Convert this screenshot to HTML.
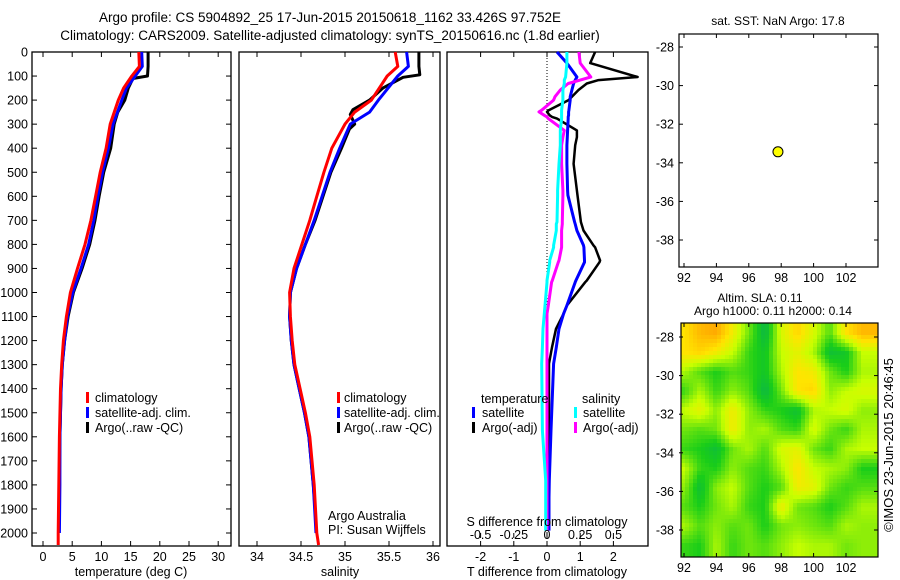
<!DOCTYPE html>
<html><head><meta charset="utf-8"><style>
body{margin:0;background:#fff;}
svg{display:block;font-family:"Liberation Sans",sans-serif;}
</style></head><body>
<svg id="fig" width="900" height="580" viewBox="0 0 900 580" xmlns="http://www.w3.org/2000/svg">
<rect width="900" height="580" fill="#fff"/>
<text x="330" y="22" font-size="13.5" text-anchor="middle">Argo profile: CS 5904892_25 17-Jun-2015 20150618_1162 33.426S 97.752E</text>
<text x="330" y="40" font-size="13.5" text-anchor="middle">Climatology: CARS2009. Satellite-adjusted climatology: synTS_20150616.nc (1.8d earlier)</text>
<g id="g"></g>
</svg>
<script>
// ---- data ----
const depthTicks=[0,100,200,300,400,500,600,700,800,900,1000,1100,1200,1300,1400,1500,1600,1700,1800,1900,2000];
const tempTicks=[0,5,10,15,20,25,30];
const salTicks=[34,34.5,35,35.5,36];
const tdiffTicks=[-2,-1,0,1,2];
const sdiffTicks=[-0.5,-0.25,0,0.25,0.5];
const sdiffTickLabels=["-0.5","-0.25","0","0.25","0.5"];
const lonTicks=[92,94,96,98,100,102];
const latTicks=[-28,-30,-32,-34,-36,-38];

const tClimDepth=[0,60,100,150,200,300,400,500,600,700,800,900,1000,1100,1200,1300,1400,1600,1800,2000,2050];
const tClim=[16.4,16.5,15.2,13.8,12.9,11.5,10.8,9.8,9.0,8.2,7.2,5.9,4.7,4.0,3.5,3.2,3.0,2.8,2.7,2.6,2.6];
const tSatDepth=[0,60,100,150,200,300,400,500,600,700,800,900,1000,1100,1200,1300,1400,1600,1800,2000];
const tSat=[16.9,17.0,15.8,14.3,13.5,12.0,11.2,10.2,9.4,8.7,7.8,6.5,5.1,4.2,3.7,3.3,3.1,2.9,2.9,2.8];
const tArgoDepth=[0,60,100,110,150,200,250,300,400,500,600,700,800,900,1000,1100,1200,1300,1400,1600,1800,1900];
const tArgo=[18.0,18.0,17.9,15.4,14.6,14.0,12.8,12.2,11.6,10.4,9.6,8.9,8.0,6.7,5.2,4.3,3.7,3.3,3.1,2.9,2.8,2.8];

const sClimDepth=[0,60,100,200,250,300,400,500,600,700,800,900,1000,1100,1200,1300,1400,1500,1600,1800,2000,2050];
const sClim=[35.57,35.60,35.48,35.30,35.11,35.00,34.85,34.76,34.68,34.60,34.51,34.42,34.37,34.38,34.40,34.43,34.49,34.55,34.60,34.65,34.68,34.70];
const sSatDepth=[0,60,100,200,250,300,400,500,600,700,800,900,1000,1100,1200,1300,1400,1500,1600,1800,2000];
const sSat=[35.70,35.72,35.60,35.38,35.28,35.06,34.94,34.83,34.74,34.65,34.55,34.45,34.38,34.37,34.39,34.42,34.48,34.54,34.59,34.64,34.67];
const sArgoDepth=[0,60,95,105,150,200,240,260,300,320,400,500,600,700,800,900,1000,1100,1200,1300,1400,1500,1600,1800,1900];
const sArgo=[35.84,35.84,35.85,35.66,35.43,35.28,35.09,35.06,35.11,35.05,34.96,34.84,34.75,34.66,34.55,34.45,34.38,34.37,34.39,34.42,34.48,34.54,34.59,34.64,34.66];

const dDepth=[0,46,104,117,131,158,186,200,242,249,263,270,277,326,354,388,465,576,596,707,715,742,804,812,867,874,950,957,1054,1088,1151,1228,1296,1574,1782,1852,1990];
const dTsat=[0.3,0.6,0.9,0.85,0.8,0.75,0.7,0.7,0.66,0.65,0.65,0.64,0.64,0.62,0.61,0.6,0.6,0.62,0.63,0.83,0.85,0.9,1.1,1.11,1.13,1.13,0.87,0.85,0.6,0.5,0.36,0.28,0.2,0.12,0.07,0.06,0.06];
const dTargo=[1.45,1.3,2.73,1.55,1.2,0.95,0.75,0.65,0.05,0.0,0.08,0.15,0.3,0.9,0.9,0.85,0.8,0.9,0.92,1.02,1.04,1.1,1.4,1.45,1.6,1.58,1.2,1.15,0.6,0.5,0.27,0.15,0.06,0.06,0.05,0.04,0.0];
const dSsat=[0.15,0.15,0.14,0.13,0.13,0.12,0.12,0.12,0.11,0.11,0.11,0.11,0.11,0.1,0.1,0.1,0.09,0.08,0.08,0.075,0.07,0.07,0.05,0.05,0.02,0.02,0.0,0.0,-0.015,-0.02,-0.03,-0.035,-0.04,-0.035,-0.01,-0.01,-0.01];
const dSargo=[0.24,0.25,0.33,0.25,0.16,0.1,0.06,0.05,-0.04,-0.06,-0.02,0.0,0.01,0.13,0.12,0.11,0.11,0.12,0.12,0.115,0.115,0.11,0.11,0.11,0.09,0.085,0.04,0.035,0.01,0.0,0.0,0.0,0.0,0.0,0.0,0.0,0.0];

const floatLon=[97.8];
const floatLat=[-33.43];

const slaLat=[-27.8,-28.8,-29.8,-30.8,-31.8,-32.8,-33.8,-34.8,-35.8,-36.8,-37.8,-38.8];
const slaLon=[92,93,94,95,96,97,98,99,100,101,102,103];
const slaGrid=[
[.8,.95,1,.75,.45,.15,.65,.85,.65,.4,.8,.95],
[.8,.85,.75,.6,.35,.25,.6,.7,.55,.2,.25,.6],
[.55,.4,.3,.4,.35,.25,.55,.8,.75,.45,.3,.55],
[.35,.55,.35,.5,.4,.15,.45,.8,.85,.5,.6,.65],
[.6,.7,.5,.75,.5,.35,.3,.2,.55,.6,.65,.5],
[.45,.4,.45,.75,.5,.55,.4,.35,.65,.45,.35,.55],
[.35,.3,.2,.45,.55,.4,.65,.7,.45,.35,.55,.6],
[.6,.35,.3,.5,.4,.35,.55,.8,.6,.55,.5,.3],
[.5,.2,.5,.6,.4,.3,.4,.75,.7,.45,.35,.4],
[.4,.3,.45,.55,.35,.3,.75,.45,.4,.3,.4,.55],
[.55,.4,.5,.4,.45,.3,.45,.5,.45,.4,.55,.5],
[.35,.3,.55,.35,.45,.4,.5,.6,.55,.55,.45,.5]];

// ---- helpers ----
const NS="http://www.w3.org/2000/svg";
const G=document.getElementById('g');
function mk(tag,attrs,parent){const e=document.createElementNS(NS,tag);for(const k in attrs)e.setAttribute(k,attrs[k]);(parent||G).appendChild(e);return e;}
const yD=d=>52+d*0.2405;
const P1={x0:32,x1:231},P2={x0:239,x1:440},P3={x0:447,x1:648};
const Y0=52,Y1=546;
const xT=v=>43+v*5.84;
const xS=v=>257+(v-34)*88;
const xTd=v=>547+v*33.2;
const xSd=v=>547+v*132.8;
const mapX=lon=>684+(lon-92)*16.2;
const mapY1=lat=>47+(-28-lat)*19.3;
const mapY2=lat=>337+(-28-lat)*19.3;

function frame(P,name){
  const r=mk('rect',{x:P.x0,y:Y0,width:P.x1-P.x0,height:Y1-Y0,fill:'none',stroke:'#000','stroke-width':1.3});
  
  
}
function xticks(P,ticks,fx,labels,ly,name){
  ticks.forEach((t,i)=>{
    const x=fx(t);
    mk('line',{x1:x,y1:Y1,x2:x,y2:Y1-5,stroke:'#000'});
    mk('line',{x1:x,y1:Y0,x2:x,y2:Y0+5,stroke:'#000'});
    const tx=mk('text',{x:x,y:ly,'font-size':12.5,'text-anchor':'middle'});
    tx.textContent=labels?labels[i]:String(t);
    
    
  });
}
function line(xs,ds,fx,color,w,name){
  const pts=xs.map((v,i)=>fx(v).toFixed(1)+','+yD(ds[i]).toFixed(1)).join(' ');
  const p=mk('polyline',{points:pts,fill:'none',stroke:color,'stroke-width':w,'stroke-linejoin':'round'});
  
  
}
function label(x,y,txt,name,anchor,size){
  const t=mk('text',{x:x,y:y,'font-size':size||12.5,'text-anchor':anchor||'start'});
  t.textContent=txt;
  
  
  return t;
}
function legendMark(x,y,color,name){
  const r=mk('rect',{x:x,y:y-10,width:3,height:11,fill:color});
  
  
}

// ---- panel 1: temperature ----
frame(P1,'temperature-panel');
depthTicks.forEach(d=>{
  const y=yD(d);
  mk('line',{x1:P1.x0,y1:y,x2:P1.x0+5,y2:y,stroke:'#000'});
  mk('line',{x1:P1.x1,y1:y,x2:P1.x1-5,y2:y,stroke:'#000'});
  label(28,y+4.5,String(d),'depth-tick-label','end');
});
xticks(P1,tempTicks,xT,null,561,'temperature-tick-label');
label(131,576,'temperature (deg C)','temperature-axis-title','middle');
line(tArgo,tArgoDepth,xT,'#000',3,'temperature-argo-line');
line(tSat,tSatDepth,xT,'#0000ff',3,'temperature-satellite-line');
line(tClim,tClimDepth,xT,'#ff0000',3,'temperature-climatology-line');
legendMark(86,402,'#ff0000','legend-climatology-marker');label(95,402,'climatology','legend-climatology');
legendMark(86,417,'#0000ff','legend-satellite-marker');label(95,417,'satellite-adj. clim.','legend-satellite');
legendMark(86,432,'#000','legend-argo-marker');label(95,432,'Argo(..raw -QC)','legend-argo');

// ---- panel 2: salinity ----
frame(P2,'salinity-panel');
xticks(P2,salTicks,xS,null,561,'salinity-tick-label');
label(340,576,'salinity','salinity-axis-title','middle');
line(sArgo,sArgoDepth,xS,'#000',3,'salinity-argo-line');
line(sSat,sSatDepth,xS,'#0000ff',3,'salinity-satellite-line');
line(sClim,sClimDepth,xS,'#ff0000',3,'salinity-climatology-line');
legendMark(337,402,'#ff0000','legend2-climatology-marker');label(344,402,'climatology','legend2-climatology');
legendMark(337,417,'#0000ff','legend2-satellite-marker');label(344,417,'satellite-adj. clim.','legend2-satellite');
legendMark(337,432,'#000','legend2-argo-marker');label(344,432,'Argo(..raw -QC)','legend2-argo');
label(328,520,'Argo Australia','credit-argo-australia');
label(328,534,'PI: Susan Wijffels','credit-pi');

// ---- panel 3: differences ----
frame(P3,'difference-panel');
mk('line',{x1:547,y1:Y0,x2:547,y2:Y1,stroke:'#000','stroke-dasharray':'1,2'});
tdiffTicks.forEach(t=>{const x=xTd(t);mk('line',{x1:x,y1:Y1,x2:x,y2:Y1-5,stroke:'#000'});mk('line',{x1:x,y1:Y0,x2:x,y2:Y0+5,stroke:'#000'});
  label(x,561,String(t),'tdiff-tick-label','middle');});
label(547,576,'T difference from climatology','tdiff-axis-title','middle');
line(dTargo,dDepth,xTd,'#000',2.5,'tdiff-argo-line');
line(dTsat,dDepth,xTd,'#0000ff',3,'tdiff-satellite-line');
line(dSargo,dDepth,xSd,'#ff00ff',3,'sdiff-argo-line');
line(dSsat,dDepth,xSd,'#00ffff',3,'sdiff-satellite-line');
sdiffTicks.forEach((t,i)=>{const x=xSd(t);mk('line',{x1:x,y1:Y1-8,x2:x,y2:Y1-13,stroke:'#000'});
  label(x,539,sdiffTickLabels[i],'sdiff-tick-label','middle');});
label(547,526,'S difference from climatology','sdiff-axis-title','middle');
label(481,403,'temperature','legend3-temperature-heading');
legendMark(472,417,'#0000ff','legend3-tsat-marker');label(482,417,'satellite','legend3-tsat');
legendMark(472,432,'#000','legend3-targo-marker');label(482,432,'Argo(-adj)','legend3-targo');
label(582,403,'salinity','legend3-salinity-heading');
legendMark(574,417,'#00ffff','legend3-ssat-marker');label(583,417,'satellite','legend3-ssat');
legendMark(574,432,'#ff00ff','legend3-sargo-marker');label(583,432,'Argo(-adj)','legend3-sargo');

// ---- map 1: float position ----
const m1=mk('rect',{x:679,y:34,width:199,height:233,fill:'none',stroke:'#000','stroke-width':1.2});


label(778,25,'sat. SST: NaN Argo: 17.8','position-map-title','middle',12);
function mapAxes(top,bot,fy,nm){
  lonTicks.forEach(l=>{const x=mapX(l);mk('line',{x1:x,y1:bot,x2:x,y2:bot-4,stroke:'#000'});mk('line',{x1:x,y1:top,x2:x,y2:top+4,stroke:'#000'});
    label(x,bot+15,String(l),nm+'-lon-label','middle',12.5);});
  latTicks.forEach(l=>{const y=fy(l);mk('line',{x1:679,y1:y,x2:683,y2:y,stroke:'#000'});mk('line',{x1:878,y1:y,x2:874,y2:y,stroke:'#000'});
    label(674,y+4.5,String(l),nm+'-lat-label','end',12.5);});
}
mapAxes(34,267,mapY1,'position-map');
floatLon.forEach((lo,i)=>{
  const c=mk('circle',{cx:mapX(lo),cy:mapY1(floatLat[i]),r:5,fill:'#ffff00',stroke:'#000','stroke-width':1});
  
  
});

// ---- map 2: SLA heatmap (bilinear-smoothed from grid) ----
label(760,302,'Altim. SLA: 0.11','sla-map-title','middle',12);
label(773,315,'Argo h1000: 0.11 h2000: 0.14','sla-map-subtitle','middle',12);
const stops=[[0,[0,165,110]],[0.3,[25,205,25]],[0.6,[200,255,0]],[0.8,[255,228,0]],[1,[255,170,0]]];
function cmap(v){for(let i=1;i<stops.length;i++){if(v<=stops[i][0]){const a=stops[i-1],b=stops[i];const f=(v-a[0])/(b[0]-a[0]);
  return 'rgb('+a[1].map((c,k)=>Math.round(c+(b[1][k]-c)*f)).join(',')+')';}}return 'rgb(255,170,0)';}
function sample(fr,fc){
  fr=Math.max(0,Math.min(slaGrid.length-1,fr));fc=Math.max(0,Math.min(slaGrid[0].length-1,fc));
  const r0=Math.floor(fr),c0=Math.floor(fc),r1=Math.min(r0+1,slaGrid.length-1),c1=Math.min(c0+1,slaGrid[0].length-1);
  const a=fr-r0,b=fc-c0;
  return slaGrid[r0][c0]*(1-a)*(1-b)+slaGrid[r0][c1]*(1-a)*b+slaGrid[r1][c0]*a*(1-b)+slaGrid[r1][c1]*a*b;
}
const hm=mk('g',{});


const HX0=681,HX1=878,HY0=323,HY1=557,step=4;
const lonStep=slaLon[1]-slaLon[0], latStep=slaLat[0]-slaLat[1];
for(let y=HY0;y<HY1;y+=step){
  for(let x=HX0;x<HX1;x+=step){
    const lon=92+(x+step/2-684)/16.2, lat=-28-(y+step/2-337)/19.3;
    const fc=(lon-slaLon[0])/lonStep, fr=(slaLat[0]-lat)/latStep;
    const cell=mk('rect',{x:x,y:y,width:Math.min(step,HX1-x)+0.5,height:Math.min(step,HY1-y)+0.5,fill:cmap(sample(fr,fc))},hm);
    
    
  }
}
const m2=mk('rect',{x:681,y:323,width:197,height:234,fill:'none',stroke:'#000','stroke-width':1.2});


mapAxes(323,557,mapY2,'sla-map');
const cr=label(0,0,'\u00A9IMOS 23-Jun-2015 20:46:45','imos-timestamp','middle',13);
cr.setAttribute('transform','translate(893,445) rotate(-90)');
</script>
</body></html>
